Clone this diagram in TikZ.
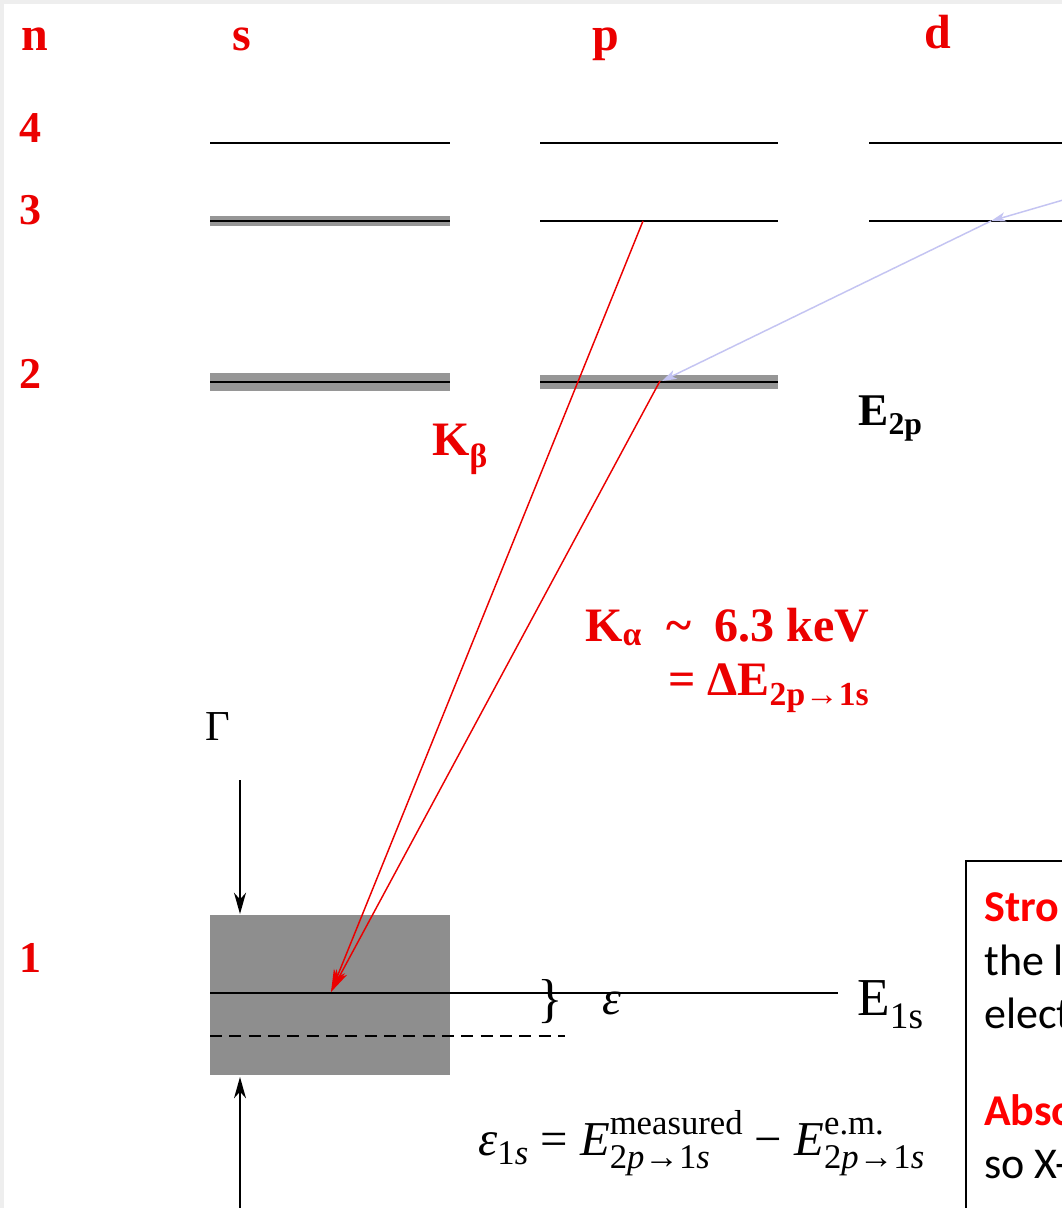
\documentclass[tikz,border=0pt]{standalone}
\usepackage{fontspec}
\setmainfont{Liberation Serif}
\newfontfamily\calibri{Carlito}
\usetikzlibrary{arrows.meta}
\definecolor{pagegray}{RGB}{238,238,238}
\definecolor{boxgray}{RGB}{142,142,142}
\definecolor{bandgray}{RGB}{150,150,150}
\definecolor{lav}{RGB}{196,196,242}
\definecolor{kred}{RGB}{235,0,0}
\newcommand\ssupsub[2]{%
  \setbox0=\hbox{\fontsize{26}{26}\selectfont #1}%
  \setbox2=\hbox{\fontsize{26}{26}\selectfont #2}%
  \ifdim\wd0>\wd2 \dimen0=\wd0 \else \dimen0=\wd2 \fi
  \hbox to \dimen0{\rlap{\raise 0.42em\box0}\rlap{\lower 0.28em\box2}\hfil}}
\begin{document}
\begin{tikzpicture}[x=0.75pt,y=-0.75pt,
  redlab/.style={text=kred, inner sep=0, anchor=base west, font=\fontsize{36}{42}\selectfont\bfseries},
  numlab/.style={text=kred, inner sep=0, anchor=base west, font=\fontsize{33}{38}\selectfont\bfseries},
  blklab/.style={text=black, inner sep=0, anchor=base west},
  boxtxt/.style={inner sep=0, anchor=base west, font=\calibri\fontsize{33}{39}\selectfont},
  boxhead/.style={inner sep=0, anchor=base west, text=red, font=\calibri\fontsize{33}{39}\selectfont\bfseries},
  level/.style={line width=2.2pt, black},
  band/.style={line width=#1, bandgray},
  redarrow/.style={kred, line width=1.1pt, -{Stealth[length=17pt,width=9pt,inset=5pt]}},
  lavarrow/.style={lav, line width=1.1pt, -{Stealth[length=11pt,width=7pt,inset=3pt]}},
  gamarrow/.style={black, line width=1.1pt, -{Stealth[length=16pt,width=9pt,inset=5pt]}}
]
\useasboundingbox (0,0) rectangle (1062,1208);
\clip (0,0) rectangle (1062,1208);
\fill[white] (0,0) rectangle (1062,1208);
\fill[pagegray] (0,0) rectangle (1062,4);
\fill[pagegray] (0,0) rectangle (4,1208);

% header labels
\node[redlab] (hn) at (21,50) {n};
\node[redlab] (hs) at (232,50) {s};
\node[redlab] (hp) at (592,50) {p};
\node[redlab] (hd) at (924,48) {d};
\node[numlab] (n4) at (19,142) {4};
\node[numlab] (n3) at (19,224) {3};
\node[numlab] (n2) at (19,388) {2};
\node[numlab] (n1) at (19,972) {1};

% n=1 box
\fill[boxgray] (210,915) rectangle (450,1075);

% coordinates of levels
\coordinate (s4a) at (210,143); \coordinate (s4b) at (450,143);
\coordinate (p4a) at (540,143); \coordinate (p4b) at (778,143);
\coordinate (d4a) at (869,143); \coordinate (d4b) at (1070,143);
\coordinate (s3a) at (210,221); \coordinate (s3b) at (450,221);
\coordinate (p3a) at (540,221); \coordinate (p3b) at (778,221);
\coordinate (d3a) at (869,221); \coordinate (d3b) at (1070,221);
\coordinate (s2a) at (210,382); \coordinate (s2b) at (450,382);
\coordinate (p2a) at (540,382); \coordinate (p2b) at (778,382);
\coordinate (s1a) at (210,993); \coordinate (s1b) at (838,993);
\coordinate (dsa) at (210,1036); \coordinate (dsb) at (565,1036);

% broadened bands
\draw[band=8pt] (s3a) -- (s3b);
\draw[band=14pt] (s2a) -- (s2b);
\draw[band=10.5pt] (p2a) -- (p2b);

% level lines
\draw[level] (s4a) -- (s4b);
\draw[level] (p4a) -- (p4b);
\draw[level] (d4a) -- (d4b);
\draw[level] (s3a) -- (s3b);
\draw[level] (p3a) -- (p3b);
\draw[level] (d3a) -- (d3b);
\draw[level] (s2a) -- (s2b);
\draw[level] (p2a) -- (p2b);
\draw[level] (s1a) -- (s1b);
\draw[black, line width=1.6pt, dash pattern=on 9pt off 5.5pt] (dsa) -- (dsb);

% lavender cascade
\coordinate (lavin) at (1070,198);
\coordinate (lavd3) at (991,221);
\coordinate (lavp2) at (662,381);
\draw[lavarrow] (lavin) -- (lavd3);
\draw[lavarrow] (lavd3) -- (lavp2);

% red transitions
\coordinate (kb) at (643,221);
\coordinate (ka) at (660,381);
\coordinate (tip) at (331,992);
\draw[redarrow] (kb) -- (tip);
\draw[redarrow] (ka) -- (tip);

% labels
\node[redlab] (kbeta) at (432,455) {K\textsubscript{β}};
\node[redlab] (kalpha) at (585,641) {K\textsubscript{α}\ \ \textasciitilde\ \ 6.3 keV};
\node[redlab] (dE) at (668,695) {= ΔE\textsubscript{2p→1s}};
\node[blklab, font=\fontsize{34}{40}\selectfont\bfseries] (e2p) at (858,425) {E\textsubscript{2p}};
\node[blklab, font=\fontsize{40}{46}\selectfont] (e1s) at (857,1015) {E\textsubscript{1s}};

% Gamma width
\node[blklab, font=\fontsize{32}{38}\selectfont] (gam) at (205,740) {Γ};
\coordinate (gtop) at (240,780);
\coordinate (gbot) at (240,1208);
\coordinate (rtop) at (240,914);
\coordinate (rbot) at (240,1077);
\draw[gamarrow] (gtop) -- (rtop);
\draw[gamarrow] (gbot) -- (rbot);

% shift epsilon
\node[inner sep=0, font=\fontsize{40}{46}\selectfont] (brace) at (550,1002) {\}};
\node[inner sep=0, font=\fontsize{36}{42}\selectfont\itshape] (eps) at (612,1003) {ε};

% formula
\node[blklab, font=\fontsize{36.5}{42}\selectfont] (formula) at (478,1155)
  {\textit{ε}{\fontsize{26}{26}\selectfont\raisebox{-0.28em}{1\textit{s}}} = \textit{E}\ssupsub{measured}{2\textit{p}→1\textit{s}} − \textit{E}\ssupsub{e.m.}{2\textit{p}→1\textit{s}}};

% text box (cut off at the picture's edge, as in the reference)
\draw[black, line width=2.2pt] (966,1250) -- (966,861) -- (1100,861);
\node[boxhead] (t1) at (984,921) {Stro};
\node[boxtxt] (t2) at (984,975) {the l};
\node[boxtxt] (t3) at (984,1028) {elect};
\node[boxhead] (t4) at (984,1125) {Abso};
\node[boxtxt] (t5) at (984,1178) {so X-};
\end{tikzpicture}
\end{document}
